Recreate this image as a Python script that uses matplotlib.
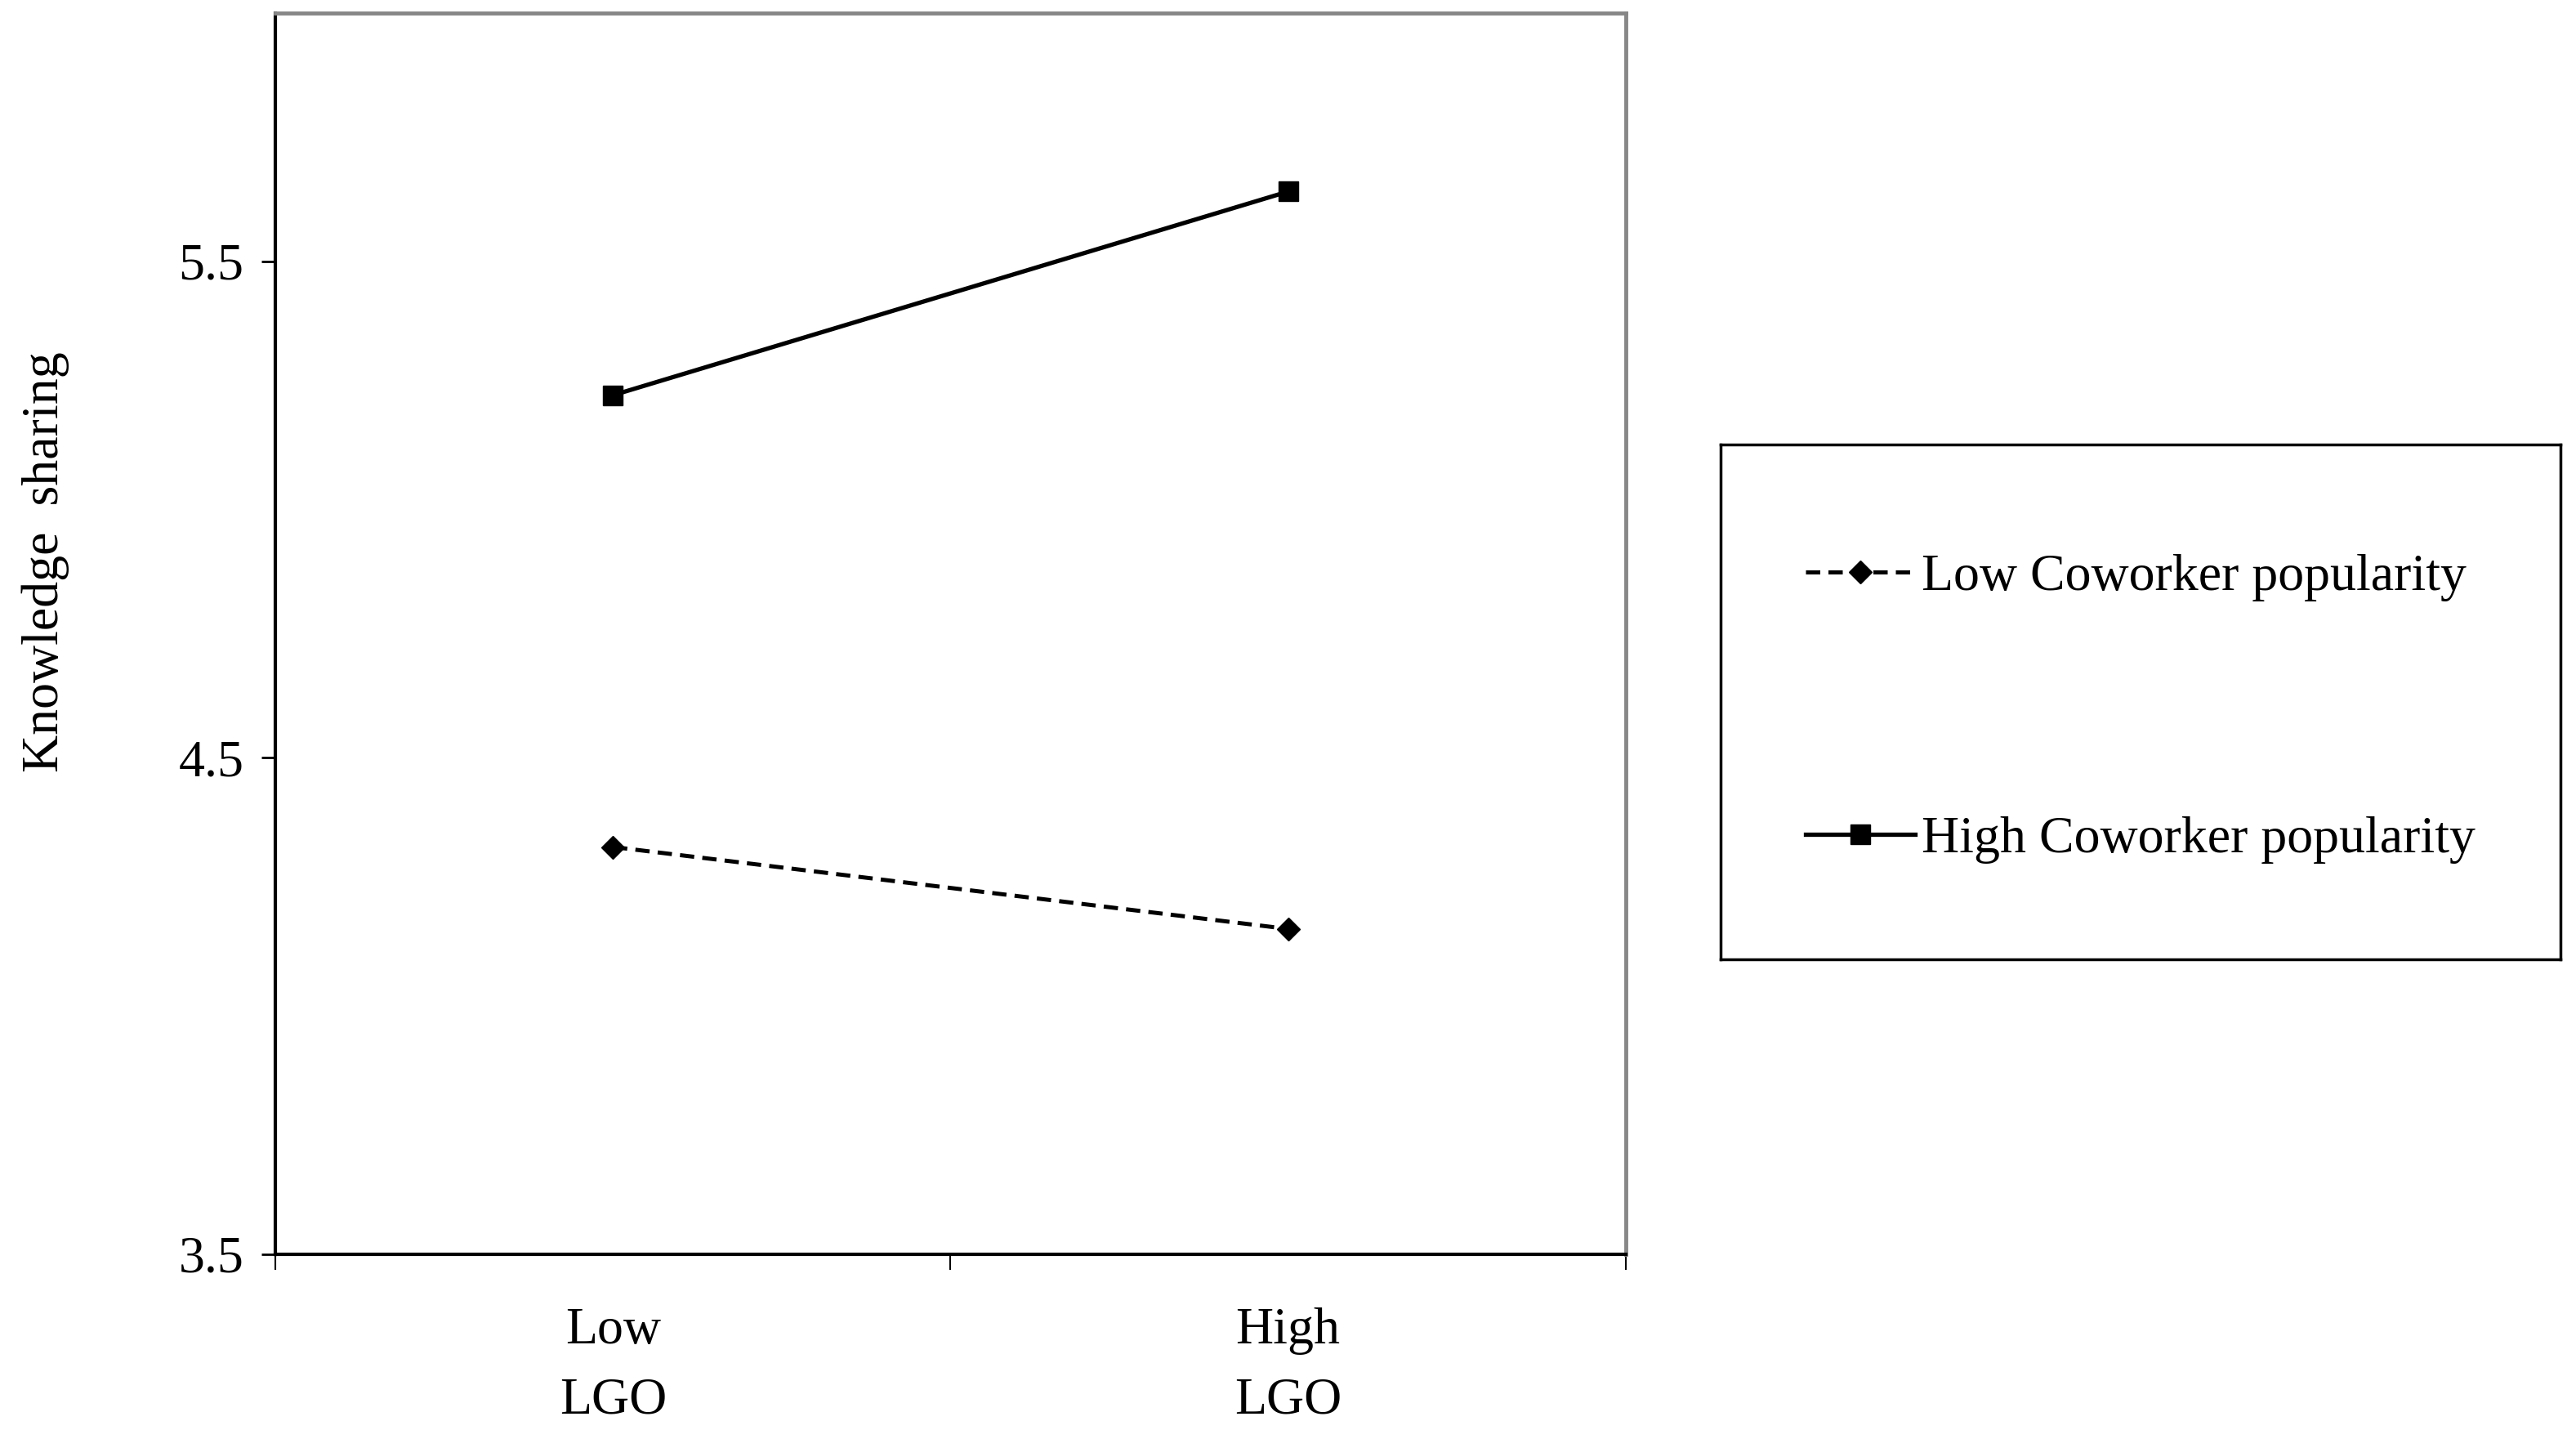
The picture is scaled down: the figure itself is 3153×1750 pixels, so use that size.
import matplotlib
matplotlib.use("Agg")
import matplotlib.pyplot as plt

# Data
categories = ["Low\nLGO", "High\nLGO"]
low_popularity = [4.32, 4.155]
high_popularity = [5.23, 5.64]
series_labels = ["Low Coworker popularity", "High Coworker popularity"]
y_ticks = [3.5, 4.5, 5.5]

plt.rcParams['font.family'] = ['Liberation Serif', 'DejaVu Serif']
FS = 46

fig = plt.figure(figsize=(31.53, 17.5), dpi=100)
ax = fig.add_axes([0.107, 0.123, 0.524, 0.868])

xpos = [0.5, 1.5]
l1, = ax.plot(xpos, low_popularity, color='black', lw=3.6, linestyle=(0, (3.5, 2.0)),
              marker='D', markersize=14, markerfacecolor='black', markeredgecolor='black',
              label=series_labels[0])
l2, = ax.plot(xpos, high_popularity, color='black', lw=3.8, linestyle='-',
              marker='s', markersize=17, markerfacecolor='black', markeredgecolor='black',
              label=series_labels[1])

ax.set_xlim(0, 2)
ax.set_ylim(3.5, 6.0)
ax.set_yticks(y_ticks)
ax.set_yticklabels([f"{v:.1f}" for v in y_ticks], fontsize=FS)
ax.set_xticks([0, 1, 2])
ax.set_xticklabels([])
ax.set_xticks(xpos, minor=True)
ax.set_xticklabels(categories, minor=True, fontsize=FS, linespacing=1.62)
ax.tick_params(axis='x', which='minor', length=0, pad=47)
ax.tick_params(axis='x', which='major', length=14, width=1.5, direction='out', color='black')
ax.tick_params(axis='y', which='major', length=12, width=2.0, direction='out', pad=16)

for s in ['left', 'bottom']:
    ax.spines[s].set_color('black')
    ax.spines[s].set_linewidth(3.0)
for s in ['top', 'right']:
    ax.spines[s].set_color('#878787')
    ax.spines[s].set_linewidth(3.5)

fig.text(56 / 3153, 1 - 688 / 1750, "Knowledge  sharing", rotation=90,
         ha='center', va='center', fontsize=FS)

# Legend box
lax = fig.add_axes([0.668, 0.329, 0.326, 0.36])
lax.set_xticks([])
lax.set_yticks([])
for s in lax.spines.values():
    s.set_color('black')
    s.set_linewidth(2.5)
lax.legend(handles=[l1, l2], loc='center', bbox_to_anchor=(0.5, 0.487),
           frameon=False, fontsize=FS,
           handlelength=2.1, handletextpad=0.12, labelspacing=4.1)

fig.savefig("out.png", dpi=100)
